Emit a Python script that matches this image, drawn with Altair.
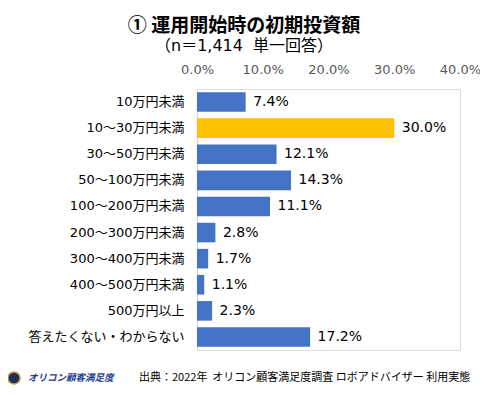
import altair as alt
import pandas as pd

categories = ["10万円未満", "10～30万円未満", "30～50万円未満", "50～100万円未満",
              "100～200万円未満", "200～300万円未満", "300～400万円未満",
              "400～500万円未満", "500万円以上", "答えたくない・わからない"]
values = [7.4, 30.0, 12.1, 14.3, 11.1, 2.8, 1.7, 1.1, 2.3, 17.2]
highlight = [False, True, False, False, False, False, False, False, False, False]
tick_values = [0, 10, 20, 30, 40]

title_text = "① 運用開始時の初期投資額"
subtitle_text = "（n＝1,414\u00a0\u00a0単一回答）"
source_text = "出典：2022年\u00a0\u00a0オリコン顧客満足度調査 ロボアドバイザー 利用実態"
logo_text = "オリコン顧客満足度"

df = pd.DataFrame({
    "cat": categories,
    "val": values,
    "hl": ["yes" if h else "no" for h in highlight],
    "label": [f"{v:.1f}%" for v in values],
})

CJK = "Noto Sans CJK JP"
MIX = "DejaVu Sans, Noto Sans CJK JP"
W, H = 263, 261

x_enc = alt.X("val:Q", scale=alt.Scale(domain=[0, 40], nice=False),
              axis=alt.Axis(orient="top", values=tick_values,
                            labelExpr="format(datum.value, '.1f') + '%'",
                            domain=False, ticks=False, grid=False, labelFlush=False,
                            labelPadding=13, labelFontSize=13, labelFont=MIX,
                            labelColor="#595959", title=None))
y_enc = alt.Y("cat:N", sort=categories,
              scale=alt.Scale(paddingInner=0.25, paddingOuter=0.125),
              axis=alt.Axis(domain=True, domainColor="#d9d9d9", domainWidth=1.5,
                            ticks=False, grid=False, labelPadding=13,
                            labelFontSize=13, labelFont=MIX, labelColor="#000000",
                            labelLimit=300, title=None))

base = alt.Chart(df)

bars = base.mark_bar().encode(
    x=x_enc, y=y_enc,
    color=alt.Color("hl:N", scale=alt.Scale(domain=["no", "yes"], range=["#4472C4", "#FFC000"]), legend=None),
)

labels = base.mark_text(align="left", baseline="middle", dx=7.5, fontSize=14, font=MIX, color="#000000").encode(
    x="val:Q", y=alt.Y("cat:N", sort=categories), text="label:N"
)

one = pd.DataFrame({"k": [0]})
title = alt.Chart(one).mark_text(align="center", baseline="middle", fontSize=19, fontWeight="bold",
                                 font=CJK, color="#000000").encode(
    x=alt.value(47), y=alt.value(-63), text=alt.value(title_text))
subtitle = alt.Chart(one).mark_text(align="left", baseline="middle", fontSize=16,
                                    font=MIX, color="#000000").encode(
    x=alt.value(-42), y=alt.value(-43), text=alt.value(subtitle_text))
source = alt.Chart(one).mark_text(align="left", baseline="middle", fontSize=11,
                                  font=CJK, color="#000000").encode(
    x=alt.value(-58), y=alt.value(289), text=alt.value(source_text))
logo_txt = alt.Chart(one).mark_text(align="left", baseline="middle", fontSize=9.5, fontWeight="bold",
                                    fontStyle="italic", font=CJK, color="#1d3d8f").encode(
    x=alt.value(-169), y=alt.value(289), text=alt.value(logo_text))
logo_circle = alt.Chart(one).mark_point(filled=True, shape="circle", size=150, color="#1f2f5f",
                                        stroke="#c9a23a", strokeWidth=1.5, opacity=1).encode(
    x=alt.value(-183), y=alt.value(289))

chart = alt.layer(bars, labels, title, subtitle, source, logo_txt, logo_circle).properties(
    width=W, height=H,
    autosize=alt.AutoSizeParams(type="none"),
    padding={"left": 189, "top": 81, "right": 20, "bottom": 38},
).configure_view(stroke=None).configure(background="white")

chart.save("out.html", embed_options={"renderer": "svg", "actions": False})
